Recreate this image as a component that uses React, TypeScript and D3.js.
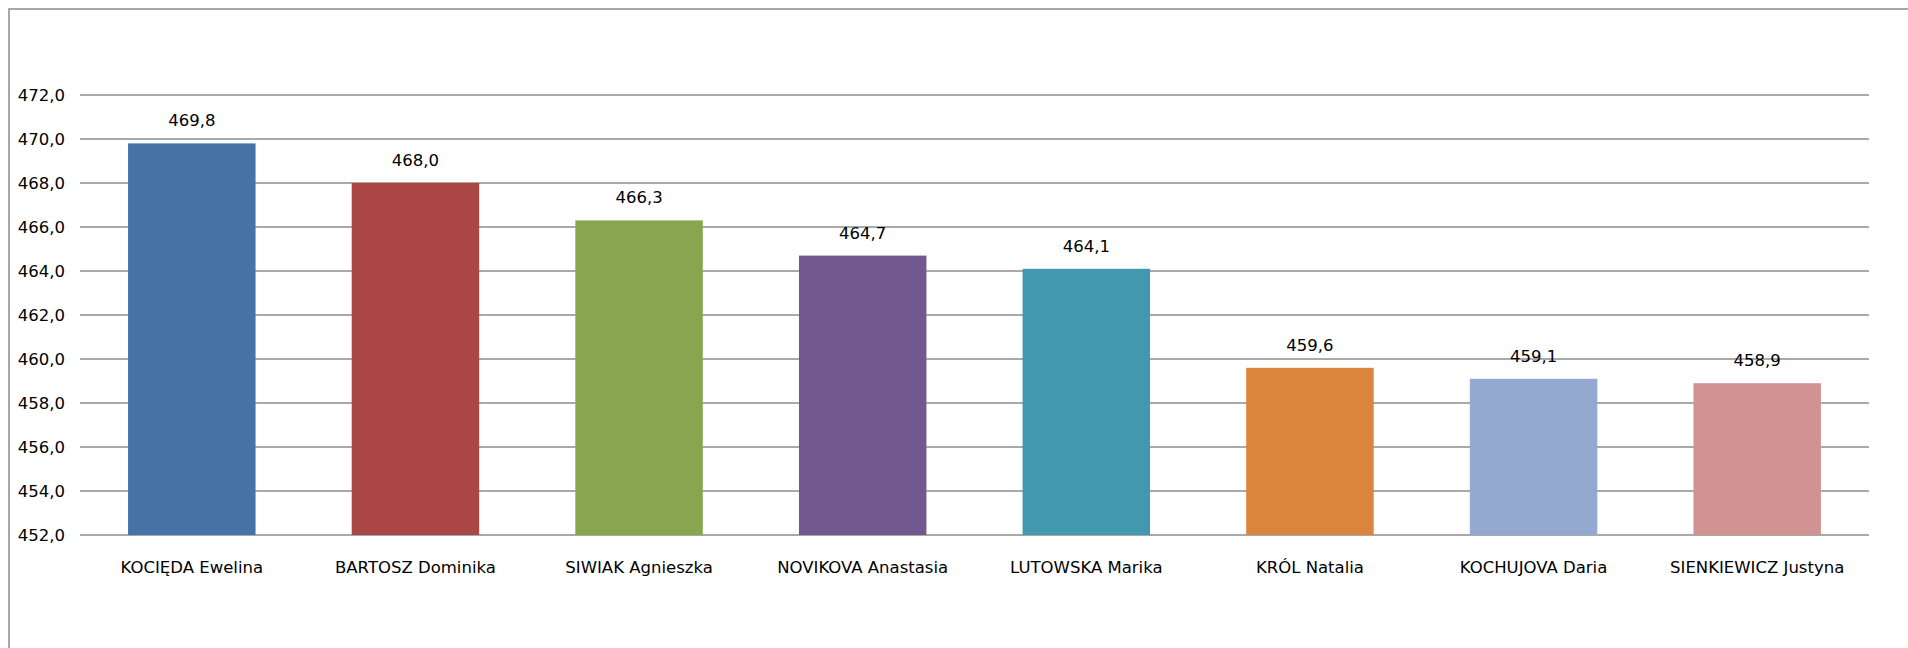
import React from 'react'
import * as d3 from 'd3'

// chart data
const athletes = [
  'KOCIĘDA Ewelina',
  'BARTOSZ Dominika',
  'SIWIAK Agnieszka',
  'NOVIKOVA Anastasia',
  'LUTOWSKA Marika',
  'KRÓL Natalia',
  'KOCHUJOVA Daria',
  'SIENKIEWICZ Justyna',
]
const scores = [469.8, 468.0, 466.3, 464.7, 464.1, 459.6, 459.1, 458.9]
const yTicks = [452, 454, 456, 458, 460, 462, 464, 466, 468, 470, 472]
const colors = ['#4572A7', '#AA4643', '#89A54E', '#71588F', '#4198AF', '#DB843D', '#93A9CF', '#D19392']

const W = 1908
const H = 648
const margin = { left: 80, right: 39, top: 95, bottom: 113 }
const fmt = (v: number) => v.toFixed(1).replace('.', ',')
const font = '"DejaVu Sans", sans-serif'
const fs = 16.5

export default function App() {
  const x = d3
    .scaleBand<string>()
    .domain(athletes)
    .range([margin.left, W - margin.right])
    .paddingInner(0.43)
    .paddingOuter(0.215)
  const y = d3
    .scaleLinear()
    .domain([452, 472])
    .range([H - margin.bottom, margin.top])

  return (
    <svg width={W} height={H} style={{ position: 'absolute', left: 0, top: 0, background: '#fff' }}>
      {/* outer frame, cut off at right and bottom */}
      <rect x={9} y={9} width={W + 20} height={H + 20} fill="none" stroke="#8a8a8a" strokeWidth={1.5} />
      <g>
        {yTicks.map((t) => (
          <g key={t}>
            <line x1={margin.left} x2={W - margin.right} y1={y(t)} y2={y(t)} stroke="#8c8c8c" strokeWidth={1.5} />
            <text x={65} y={y(t) + 6} textAnchor="end" fontFamily={font} fontSize={fs} fill="#000">
              {fmt(t)}
            </text>
          </g>
        ))}
      </g>
      <g>
        {athletes.map((a, i) => (
          <g key={a}>
            <rect x={x(a)} y={y(scores[i])} width={x.bandwidth()} height={y(452) - y(scores[i])} fill={colors[i]} />
            <text
              x={x(a)! + x.bandwidth() / 2}
              y={y(scores[i]) - 17}
              textAnchor="middle"
              fontFamily={font}
              fontSize={fs}
            >
              {fmt(scores[i])}
            </text>
            <text
              x={x(a)! + x.bandwidth() / 2}
              y={573}
              textAnchor="middle"
              fontFamily={font}
              fontSize={fs}
            >
              {a}
            </text>
          </g>
        ))}
      </g>
    </svg>
  )
}
